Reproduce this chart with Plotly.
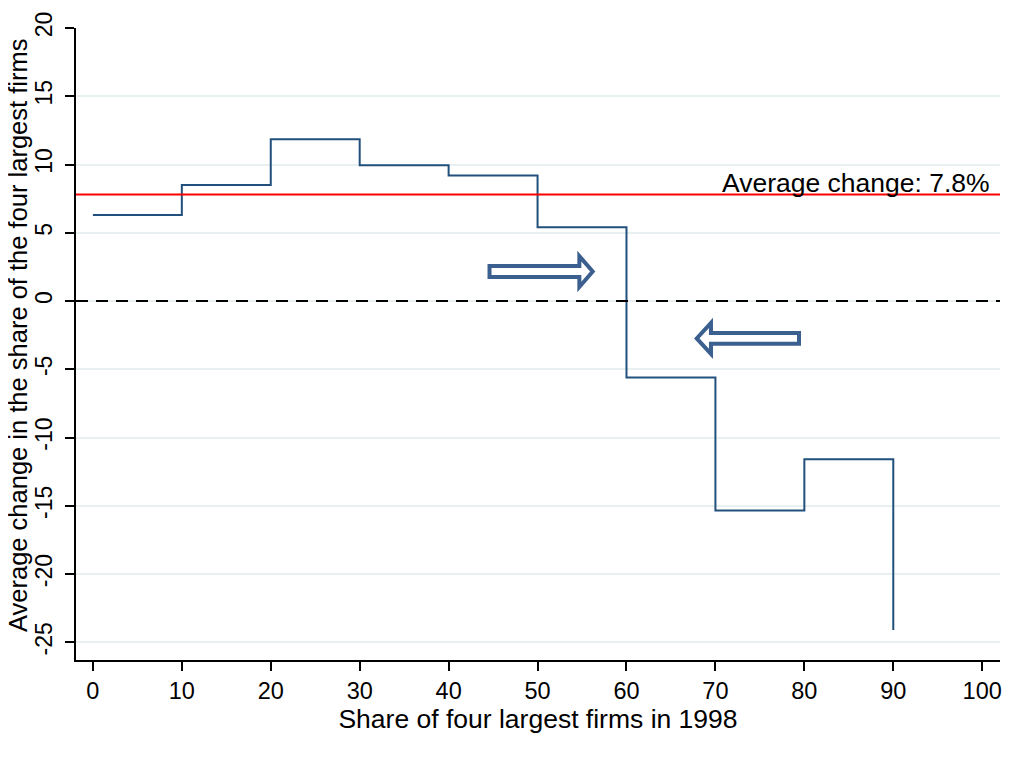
import plotly.graph_objects as go

# bin start of share of four largest firms (1998) and average change
share_bins = [0, 10, 20, 30, 40, 50, 60, 70, 80, 90]
avg_change = [6.3, 8.5, 11.85, 9.95, 9.2, 5.4, -5.6, -15.35, -11.6, -24.1]
overall_avg = 7.8
x_ticks = [0, 10, 20, 30, 40, 50, 60, 70, 80, 90, 100]
y_ticks = [-25, -20, -15, -10, -5, 0, 5, 10, 15, 20]

navy = "#22507c"
arrow_col = "#3b5f8e"
font = "Liberation Sans, Arial, sans-serif"


def arrow_path(x_tail, x_base, x_tip, yc, shaft, head):
    # block arrow outline, data coordinates
    pts = [(x_tail, yc - shaft), (x_base, yc - shaft), (x_base, yc - head), (x_tip, yc),
           (x_base, yc + head), (x_base, yc + shaft), (x_tail, yc + shaft)]
    return "M " + " L ".join("{},{}".format(px, py) for px, py in pts) + " Z"


fig = go.Figure()
fig.add_trace(go.Scatter(x=share_bins, y=avg_change, mode="lines", line_shape="hv",
                         line=dict(color=navy, width=2), showlegend=False))

fig.add_shape(type="line", xref="paper", x0=0, x1=1, y0=overall_avg, y1=overall_avg,
              line=dict(color="#ff0000", width=2))
fig.add_shape(type="line", xref="paper", x0=0, x1=1, y0=0, y1=0,
              line=dict(color="black", width=2, dash="12px,8px"))

fig.add_shape(type="path", path=arrow_path(44.6, 54.7, 56.2, 2.16, 0.40, 1.13),
              line=dict(color=arrow_col, width=4), fillcolor="white", layer="above")
fig.add_shape(type="path", path=arrow_path(79.4, 69.5, 67.9, -2.74, 0.40, 1.13),
              line=dict(color=arrow_col, width=4), fillcolor="white", layer="above")

fig.add_annotation(x=1, xref="paper", xanchor="right", y=overall_avg, yanchor="bottom",
                   text="Average change: 7.8%", showarrow=False, xshift=-8, yshift=-5,
                   font=dict(size=26.5, color="black", family=font))

# y title as a rotated annotation so it sits clear of the tick labels
fig.add_annotation(x=0, xref="paper", y=0.5, yref="paper", xanchor="center", yanchor="middle",
                   text="Average change in the share of the four largest firms",
                   textangle=-90, showarrow=False, xshift=-58, yshift=8,
                   font=dict(size=25.5, color="black", family=font))

# page body adds an 8px margin, so the figure is shrunk by that amount
fig.update_layout(
    width=1015, height=757,
    margin=dict(l=68, r=23, t=20, b=105),
    plot_bgcolor="white", paper_bgcolor="white",
    font=dict(family=font, size=24, color="black"),
    xaxis=dict(range=[-1.9, 102], tickvals=x_ticks, showgrid=False, zeroline=False,
               showline=True, linecolor="black", linewidth=1.5, automargin=False,
               ticks="outside", ticklen=9, tickwidth=1.5, tickcolor="black",
               ticklabelstandoff=0,
               title=dict(text="Share of four largest firms in 1998", standoff=0,
                          font=dict(size=26.5, family=font)),
               tickfont=dict(size=23.5, family=font)),
    yaxis=dict(range=[-26.3, 20], tickvals=y_ticks, ticktext=[str(v) for v in y_ticks],
               tickangle=-90, automargin=False,
               showgrid=True, gridcolor="#e8f0f2", gridwidth=1.5, zeroline=False,
               showline=True, linecolor="black", linewidth=1.5,
               ticks="outside", ticklen=9, tickwidth=1.5, tickcolor="black",
               ticklabelstandoff=4,
               tickfont=dict(size=23, family=font)),
)

fig.write_html("out.html")
